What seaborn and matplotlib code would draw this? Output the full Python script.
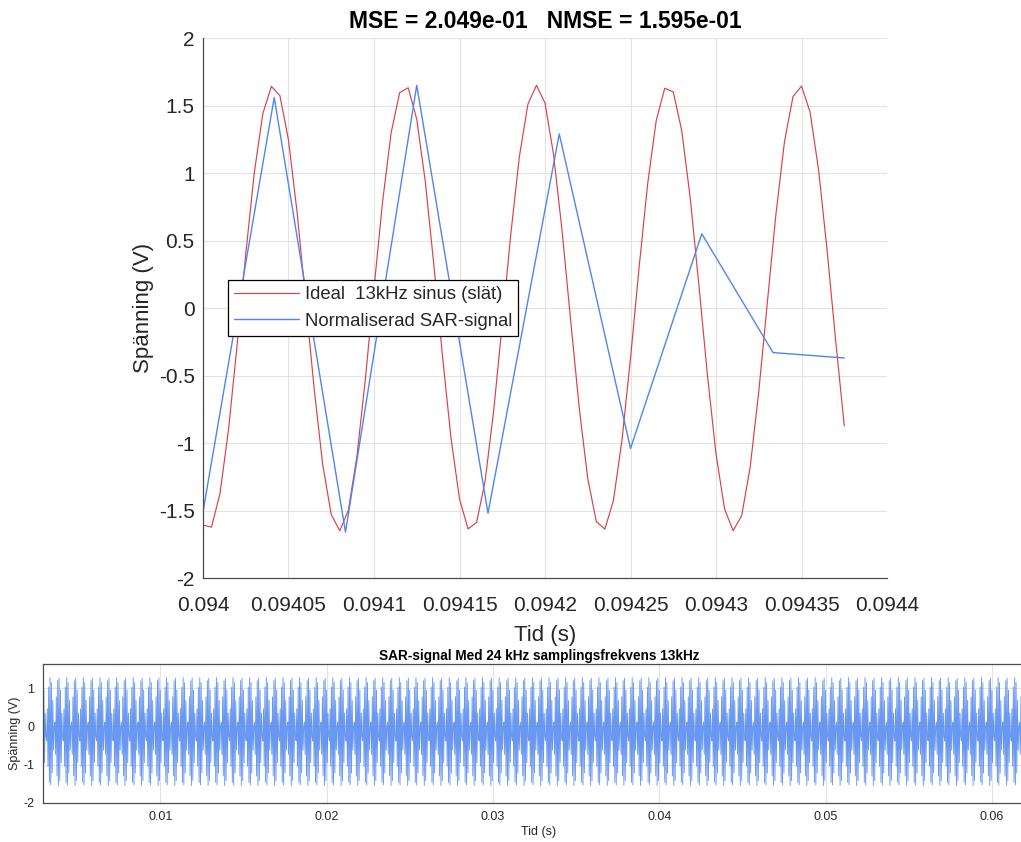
import numpy as np
import pandas as pd
import matplotlib
matplotlib.use("Agg")
import matplotlib.pyplot as plt
import seaborn as sns

# ---------------- data ----------------
# Ideal 13 kHz sine, sampled every 5 us starting at 0.094 s
ideal_t0 = 0.094
ideal_dt = 5e-6
ideal_values = [
    -1.608, -1.623, -1.371, -0.894, -0.269, 0.399, 1.002, 1.440, 1.642, 1.573,
    1.245, 0.713, 0.063, -0.597, -1.159, -1.530, -1.650, -1.498, -1.100, -0.521,
    0.144, 0.785, 1.297, 1.595, 1.632, 1.399, 0.937, 0.320, -0.349, -0.960,
    -1.414, -1.636, -1.588, -1.279, -0.759, -0.115, 0.548, 1.121, 1.510, 1.650,
    1.519, 1.138, 0.570, -0.092, -0.739, -1.264, -1.581, -1.638, -1.426, -0.979,
    -0.371, 0.298, 0.918, 1.387, 1.628, 1.601, 1.311, 0.805, 0.167, -0.499,
    -1.083, -1.488, -1.649, -1.538, -1.175, -0.618, 0.040, 0.692, 1.230, 1.566,
    1.644, 1.451, 1.020, 0.421, -0.247, -0.874,
]

# Normalised SAR signal, 24 kHz samples starting at 0.094 s
sar_t0 = 0.094
sar_fs = 24000
sar_values = [-1.51, 1.56, -1.66, 1.65, -1.52, 1.29, -1.04, 0.55, -0.33, -0.37]

# Full SAR signal (bottom): one 1 ms cycle (24 samples) that repeats
full_t0 = 0.0029167
full_n = 1435
full_cycle = [
    1.264, -1.422, 0.953, -0.950, 0.351, -0.259, -0.382, 0.465, -1.048, 1.028,
    -1.469, 1.280, -1.534, 1.152, -1.223, 0.680, -0.621, -0.011, 0.112, -0.735,
    0.778, -1.298, 1.199, -1.550,
]

title_top = "MSE = 2.049e-01   NMSE = 1.595e-01"
title_bottom = "SAR-signal Med 24 kHz samplingsfrekvens 13kHz"
top_xticks = [0.094, 0.09405, 0.0941, 0.09415, 0.0942, 0.09425, 0.0943, 0.09435, 0.0944]
top_xticklabels = ["0.094", "0.09405", "0.0941", "0.09415", "0.0942", "0.09425",
                   "0.0943", "0.09435", "0.0944"]
top_yticks = [-2, -1.5, -1, -0.5, 0, 0.5, 1, 1.5, 2]
top_yticklabels = ["-2", "-1.5", "-1", "-0.5", "0", "0.5", "1", "1.5", "2"]
bot_xticks = [0.01, 0.02, 0.03, 0.04, 0.05, 0.06]
bot_xticklabels = ["0.01", "0.02", "0.03", "0.04", "0.05", "0.06"]
bot_yticks = [-2, -1, 0, 1]
bot_yticklabels = ["-2", "-1", "0", "1"]
legend_labels = ["Ideal  13kHz sinus (slät)", "Normaliserad SAR-signal"]

# ---------------- frames ----------------
df_ideal = pd.DataFrame({
    "t": ideal_t0 + np.arange(len(ideal_values)) * ideal_dt,
    "v": ideal_values,
})
df_sar = pd.DataFrame({
    "t": sar_t0 + np.arange(len(sar_values)) / sar_fs,
    "v": sar_values,
})
full_vals = np.tile(full_cycle, full_n // len(full_cycle) + 1)[:full_n]
df_full = pd.DataFrame({
    "t": full_t0 + np.arange(full_n) / sar_fs,
    "v": full_vals,
})

# ---------------- style ----------------
sns.set_theme(style="whitegrid")
plt.rcParams["font.family"] = ["Liberation Sans", "DejaVu Sans"]
RED = "#D9414A"
BLUE = "#4F86EE"
TXT = "#262626"
GRID = "#E3E3E3"
SPINE = "#4D4D4D"

fig = plt.figure(figsize=(10.21, 8.42), dpi=100)
fig.patch.set_facecolor("white")

# ---------------- top axes ----------------
ax = fig.add_axes([0.1988, 0.3135, 0.670, 0.6413])
sns.lineplot(data=df_ideal, x="t", y="v", ax=ax, color=RED, linewidth=0.85,
             estimator=None, sort=False, label=legend_labels[0])
sns.lineplot(data=df_sar, x="t", y="v", ax=ax, color=BLUE, linewidth=1.0,
             estimator=None, sort=False, label=legend_labels[1])
ax.set_xlim(0.094, 0.0944)
ax.set_ylim(-2, 2)
ax.set_xticks(top_xticks)
ax.set_xticklabels(top_xticklabels)
ax.set_yticks(top_yticks)
ax.set_yticklabels(top_yticklabels)
ax.tick_params(axis="x", labelsize=15, colors=TXT, direction="in",
               length=6, width=0.8, pad=13)
ax.tick_params(axis="y", labelsize=15, colors=TXT, direction="in",
               length=6, width=0.8, pad=6)
ax.grid(True, color=GRID, linewidth=0.8)
for s in ["top", "right"]:
    ax.spines[s].set_visible(False)
for s in ["left", "bottom"]:
    ax.spines[s].set_color(SPINE)
    ax.spines[s].set_linewidth(0.9)
ax.set_xlabel("Tid (s)", fontsize=16, color=TXT, labelpad=7)
ax.set_ylabel("Spänning (V)", fontsize=16, color=TXT, labelpad=3)
ax.set_title(title_top, fontsize=16.5, fontweight="bold", color="black", pad=7)
leg = ax.legend(loc="lower left", bbox_to_anchor=(0.0365, 0.448), fontsize=13.3,
                frameon=True, fancybox=False, framealpha=1, edgecolor="black",
                handlelength=3.5, borderpad=0.35, labelspacing=0.5,
                handletextpad=0.3, borderaxespad=0)
leg.get_frame().set_linewidth(0.9)
for t in leg.get_texts():
    t.set_color(TXT)

# ---------------- bottom axes (extends past the right edge, as cropped) ----------------
ax2 = fig.add_axes([0.0418, 0.0467, 0.972, 0.1644])
sns.lineplot(data=df_full, x="t", y="v", ax=ax2, color=BLUE, linewidth=0.65,
             alpha=0.85, estimator=None, sort=False)
ax2.set_xlim(0.00293, 0.0626)
ax2.set_ylim(-2, 1.63)
ax2.set_xticks(bot_xticks)
ax2.set_xticklabels(bot_xticklabels)
ax2.set_yticks(bot_yticks)
ax2.set_yticklabels(bot_yticklabels)
ax2.tick_params(axis="both", labelsize=9, colors=TXT, direction="in",
                length=4, width=0.8, pad=6)
ax2.grid(True, color=GRID, linewidth=0.8)
for s in ax2.spines.values():
    s.set_visible(True)
    s.set_color(SPINE)
    s.set_linewidth(0.9)
ax2.set_xlabel("Tid (s)", fontsize=9, color=TXT, labelpad=2)
ax2.set_ylabel("Spänning (V)", fontsize=9, color=TXT, labelpad=2)
ax2.set_title(title_bottom, fontsize=9.8, fontweight="bold", color="black", pad=3)

fig.savefig("out.png", dpi=100, facecolor="white")
